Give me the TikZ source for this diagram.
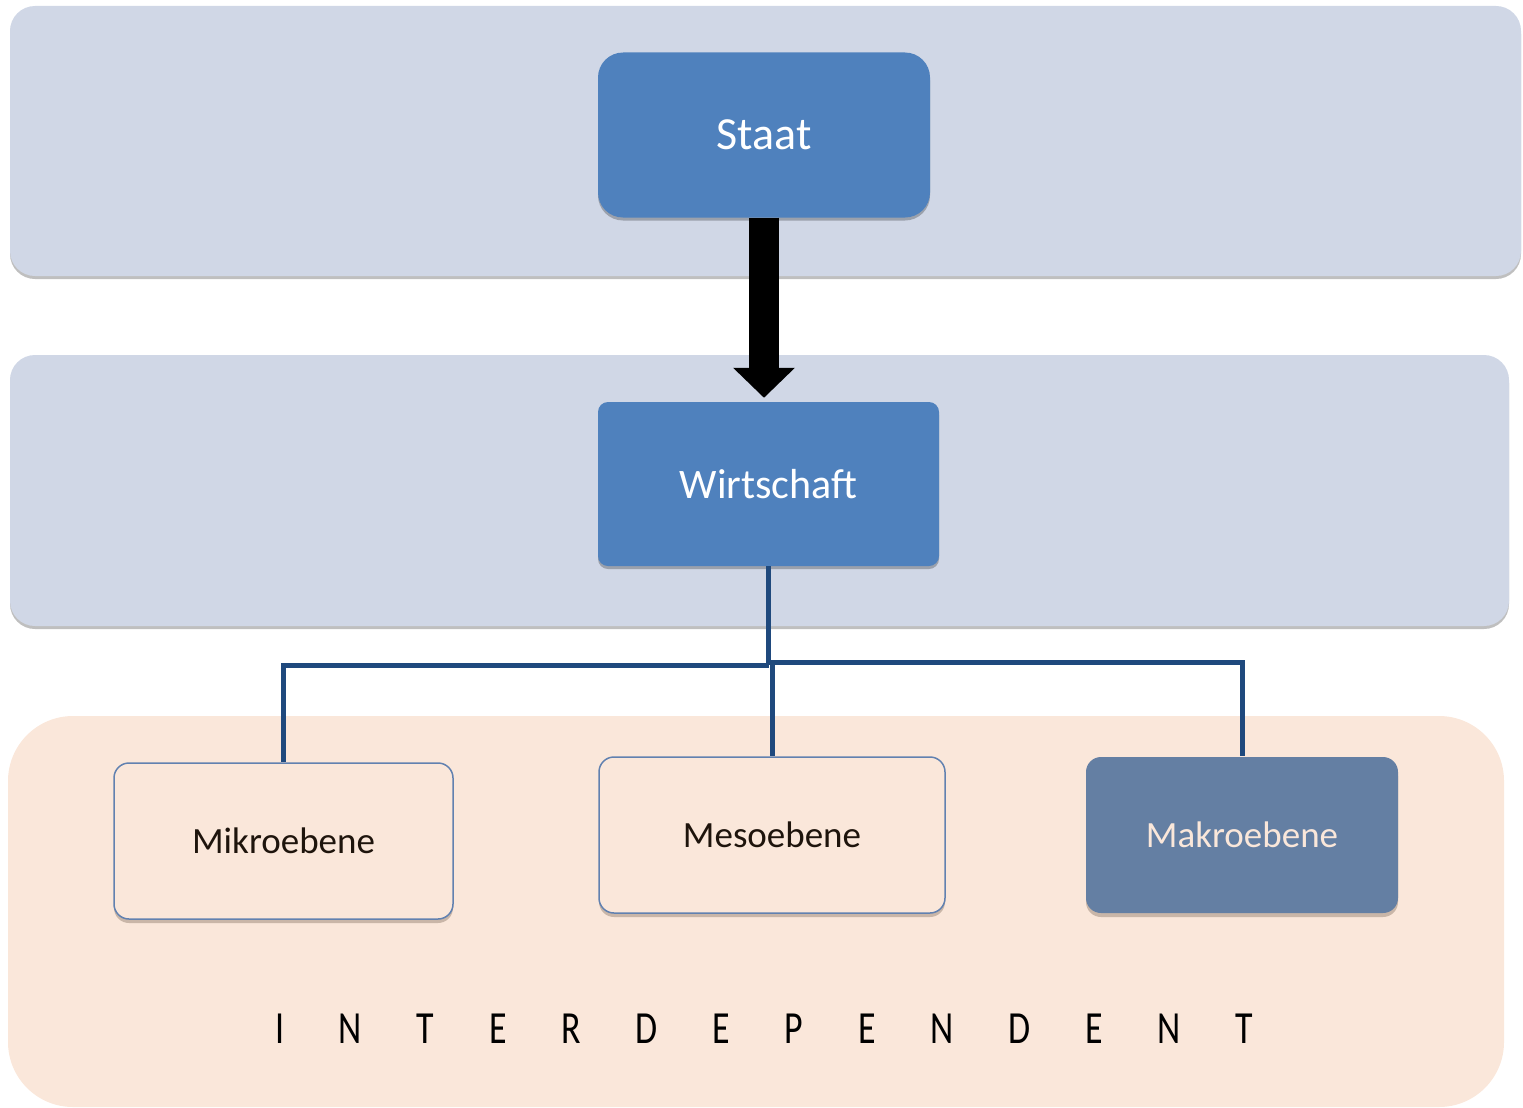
\documentclass[tikz,border=0pt]{standalone}
\usepackage{fontspec}
\usepackage{graphicx}
\setmainfont{Carlito}
\usetikzlibrary{arrows.meta,shadows}
\definecolor{bandblue}{HTML}{D0D7E6}
\definecolor{bandpeach}{HTML}{FAE7DA}
\definecolor{boxblue}{HTML}{4F81BD}
\definecolor{makro}{HTML}{647FA3}
\definecolor{edge}{HTML}{6181B0}
\definecolor{conn}{HTML}{1F497D}
\definecolor{darktext}{HTML}{1E140C}
\newcommand\cnd[1]{\scalebox{0.78}[1]{#1}}
\tikzset{
  band/.style={rounded corners=25pt, fill=bandblue,
    drop shadow={shadow xshift=0pt, shadow yshift=-3pt, opacity=0.25, fill=black}},
  bluebox/.style={fill=boxblue, text=white, inner sep=0pt, font=\fontsize{42}{50}\selectfont,
    drop shadow={shadow xshift=0pt, shadow yshift=-3pt, opacity=0.25, fill=black}},
  levelbox/.style={fill=bandpeach, draw=edge, line width=1.5pt, rounded corners=15pt,
    inner sep=0pt, text=darktext, font=\fontsize{37}{44}\selectfont,
    minimum height=156pt,
    drop shadow={shadow xshift=0pt, shadow yshift=-4pt, opacity=0.25, fill=black!70!brown}},
  link/.style={draw=conn, line width=5pt},
}
\begin{document}
\begin{tikzpicture}[x=1pt, y=-1pt]
\useasboundingbox (0,0) rectangle (1523,1108);
% bands
\path[band] (10,6) rectangle (1521,276);
\path[band] (10,355) rectangle (1509,626);
\path[fill=bandpeach, rounded corners=65pt] (8,716) rectangle (1504,1107);
% main boxes
\node[bluebox, rounded corners=25pt, minimum width=332pt, minimum height=165pt,
  font=\fontsize{46}{54}\selectfont] (staat) at (764,135) {Staat};
\node[bluebox, rounded corners=10pt, minimum width=341pt, minimum height=164pt] (wirt) at (768.5,484) {Wirtschaft};
% level boxes
\node[levelbox, minimum width=339pt] (mikro) at (283.5,841) {Mikroebene};
\node[levelbox, minimum width=346pt] (meso) at (772,835) {Mesoebene};
\node[levelbox, minimum width=312pt, fill=makro, draw=none, text=bandpeach] (makroN) at (1242,835) {Makroebene};
% arrow
\draw[line width=30pt, -{Triangle[width=60pt,length=30pt]}, shorten >=4pt]
  (staat.south) -- (staat.south |- wirt.north);
% connectors
\coordinate (jl) at (768.5,665);
\coordinate (jr) at (768.5,662);
\draw[link] (wirt.south) -- (jl);
\draw[link] (jl) -| (mikro.north);
\draw[link] (jr) -| (makroN.north);
\draw[link] (meso.north |- jl) -- (meso.north);
% bottom text
\node[font=\fontsize{46}{54}\selectfont, inner sep=0pt] (inter) at (764,1029)
  {\makebox[978pt]{\cnd{I}\hfill\cnd{N}\hfill\cnd{T}\hfill\cnd{E}\hfill\cnd{R}\hfill\cnd{D}\hfill\cnd{E}\hfill\cnd{P}\hfill\cnd{E}\hfill\cnd{N}\hfill\cnd{D}\hfill\cnd{E}\hfill\cnd{N}\hfill\cnd{T}}};
\end{tikzpicture}
\end{document}
